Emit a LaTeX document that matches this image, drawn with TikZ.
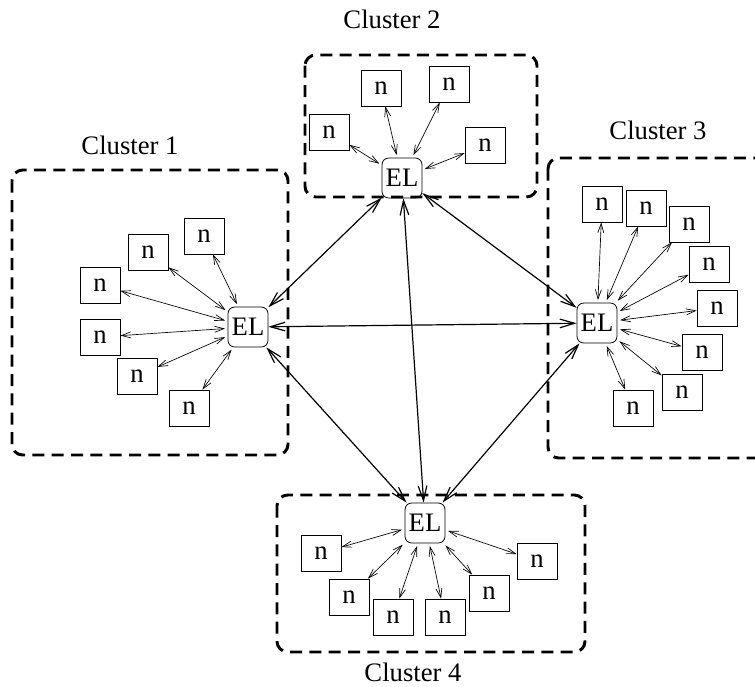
\documentclass[tikz,border=0pt]{standalone}
\usepackage{fontspec}
\setmainfont{Liberation Serif}
\usetikzlibrary{arrows.meta}

\begin{document}
\begin{tikzpicture}[x=0.75pt, y=-0.75pt, font=\fontsize{20}{23}\selectfont,
        cluster/.style={line width=2.2pt, dash pattern=on 9pt off 5.5pt, rounded corners=8pt}]
        \useasboundingbox (0,0) rectangle (755,686);

        % dashed cluster frames
        \draw [cluster] (12,170) rectangle (288,455);
        \draw [cluster] (305,55) rectangle (537,197);
        \draw [cluster] (548,158) rectangle (775,458);
        \draw [cluster] (277,495) rectangle (585,652);

        \begin{scope}[every node/.style={inner sep=0pt}]
            \node (c1) at (130,145) {Cluster 1};
            \node (c2) at (392,19) {Cluster 2};
            \node (c3) at (658,130) {Cluster 3};
            \node (c4) at (413,672) {Cluster 4};
        \end{scope}

        \begin{scope}[every node/.style={rectangle,draw,rounded corners=5pt,minimum size=30pt,inner sep=0pt,line width=0.6pt}]
            \node (EL1) at (248,327) {EL};
            \node (EL2) at (402,178) {EL};
            \node (EL3) at (597,323) {EL};
            \node (EL4) at (425,523) {EL};
        \end{scope}

        \begin{scope}[every node/.style={rectangle,draw,minimum width=30pt,minimum height=27pt,inner sep=0pt,line width=0.6pt}]
            % cluster 1
            \node (a1) at (204,236) {n};
            \node (a2) at (148,252) {n};
            \node (a3) at (100,285) {n};
            \node (a4) at (100,337) {n};
            \node (a5) at (137,376) {n};
            \node (a6) at (189,408) {n};
            % cluster 2
            \node (b1) at (329,132) {n};
            \node (b2) at (381,88) {n};
            \node (b3) at (449,84) {n};
            \node (b4) at (485,145) {n};
            % cluster 3
            \node (d1) at (602,204) {n};
            \node (d2) at (646,208) {n};
            \node (d3) at (689,224) {n};
            \node (d4) at (709,264) {n};
            \node (d5) at (717,308) {n};
            \node (d6) at (702,352) {n};
            \node (d7) at (682,392) {n};
            \node (d8) at (633,408) {n};
            % cluster 4
            \node (e1) at (321,553) {n};
            \node (e2) at (349,597) {n};
            \node (e3) at (393,617) {n};
            \node (e4) at (445,617) {n};
            \node (e5) at (489,593) {n};
            \node (e6) at (537,561) {n};
        \end{scope}

        % links inside the clusters
        \begin{scope}[every edge/.style={draw,line width=0.5pt,shorten <=2pt,
                      {Straight Barb[length=7pt,width=4.5pt]}-{Straight Barb[length=7pt,width=4.5pt]}}]
            \path (EL1) edge (a1) edge (a2) edge (a3) edge (a4) edge (a5) edge (a6);
            \path (EL2) edge (b1) edge (b2) edge (b3) edge (b4);
            \path (EL3) edge (d1) edge (d2) edge (d3) edge (d4) edge (d5) edge (d6) edge (d7) edge (d8);
            \path (EL4) edge (e1) edge (e2) edge (e3) edge (e4) edge (e5) edge (e6);
        \end{scope}

        % links between the leaders
        \begin{scope}[every edge/.style={draw,line width=0.9pt,
                      {Straight Barb[length=11pt,width=6.5pt]}-{Straight Barb[length=11pt,width=6.5pt]}}]
            \path (EL1) edge (EL2) edge (EL3) edge (EL4);
            \path (EL2) edge (EL3) edge (EL4);
            \path (EL3) edge (EL4);
        \end{scope}
    \end{tikzpicture}
\end{document}
